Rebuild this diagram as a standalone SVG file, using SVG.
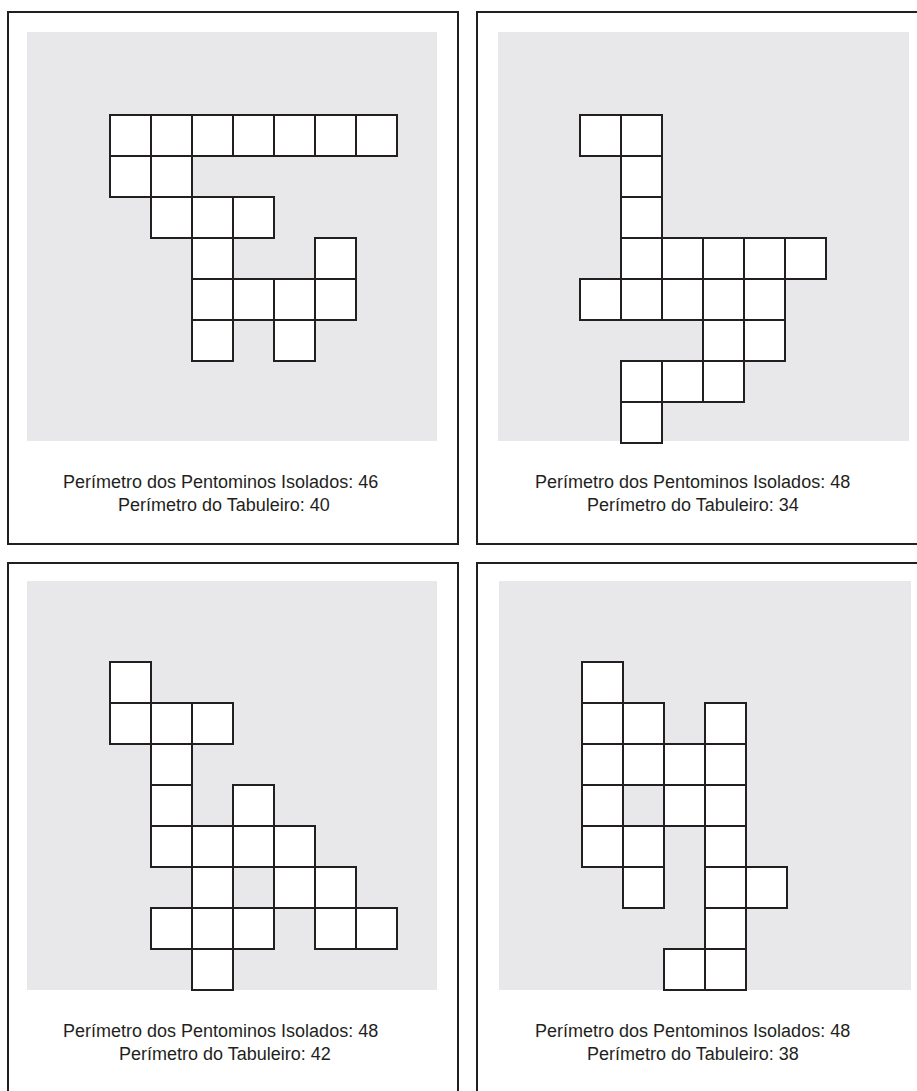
<svg xmlns="http://www.w3.org/2000/svg" width="917" height="1091" viewBox="0 0 917 1091">
<defs>
<style>
.frame{fill:#ffffff;stroke:#231f20;stroke-width:2}
.board{fill:#e8e8ea;stroke:none}
.c{fill:#ffffff;stroke:#231f20;stroke-width:2}
.t{font-family:"Liberation Sans",Arial,sans-serif;font-size:18px;fill:#231f20}
</style>
<rect id="cell" class="c" width="41" height="41"/>
</defs>
<rect width="917" height="1091" fill="#ffffff"/>

<g id="panel-top-left">
<rect class="frame" x="8" y="12" width="450" height="532"/>
<rect class="board" x="27" y="32" width="410" height="409"/>
<g transform="translate(110,115)">
<use href="#cell" x="0" y="0"/><use href="#cell" x="41" y="0"/><use href="#cell" x="82" y="0"/><use href="#cell" x="123" y="0"/><use href="#cell" x="164" y="0"/><use href="#cell" x="205" y="0"/><use href="#cell" x="246" y="0"/>
<use href="#cell" x="0" y="41"/><use href="#cell" x="41" y="41"/>
<use href="#cell" x="41" y="82"/><use href="#cell" x="82" y="82"/><use href="#cell" x="123" y="82"/>
<use href="#cell" x="82" y="123"/><use href="#cell" x="205" y="123"/>
<use href="#cell" x="82" y="164"/><use href="#cell" x="123" y="164"/><use href="#cell" x="164" y="164"/><use href="#cell" x="205" y="164"/>
<use href="#cell" x="82" y="205"/><use href="#cell" x="164" y="205"/>
</g>
<text class="t" x="63" y="488">Perímetro dos Pentominos Isolados: 46</text>
<text class="t" x="118" y="511">Perímetro do Tabuleiro: 40</text>
</g>

<g id="panel-top-right">
<rect class="frame" x="477" y="12" width="450" height="532"/>
<rect class="board" x="498" y="32" width="411" height="409"/>
<g transform="translate(580,115)">
<use href="#cell" x="0" y="0"/><use href="#cell" x="41" y="0"/>
<use href="#cell" x="41" y="41"/>
<use href="#cell" x="41" y="82"/>
<use href="#cell" x="41" y="123"/><use href="#cell" x="82" y="123"/><use href="#cell" x="123" y="123"/><use href="#cell" x="164" y="123"/><use href="#cell" x="205" y="123"/>
<use href="#cell" x="0" y="164"/><use href="#cell" x="41" y="164"/><use href="#cell" x="82" y="164"/><use href="#cell" x="123" y="164"/><use href="#cell" x="164" y="164"/>
<use href="#cell" x="123" y="205"/><use href="#cell" x="164" y="205"/>
<use href="#cell" x="41" y="246"/><use href="#cell" x="82" y="246"/><use href="#cell" x="123" y="246"/>
<use href="#cell" x="41" y="287"/>
</g>
<text class="t" x="535" y="488">Perímetro dos Pentominos Isolados: 48</text>
<text class="t" x="587" y="511">Perímetro do Tabuleiro: 34</text>
</g>

<g id="panel-bottom-left">
<rect class="frame" x="8" y="563" width="450" height="540"/>
<rect class="board" x="27" y="581" width="410" height="409"/>
<g transform="translate(110,662)">
<use href="#cell" x="0" y="0"/>
<use href="#cell" x="0" y="41"/><use href="#cell" x="41" y="41"/><use href="#cell" x="82" y="41"/>
<use href="#cell" x="41" y="82"/>
<use href="#cell" x="41" y="123"/><use href="#cell" x="123" y="123"/>
<use href="#cell" x="41" y="164"/><use href="#cell" x="82" y="164"/><use href="#cell" x="123" y="164"/><use href="#cell" x="164" y="164"/>
<use href="#cell" x="82" y="205"/><use href="#cell" x="164" y="205"/><use href="#cell" x="205" y="205"/>
<use href="#cell" x="41" y="246"/><use href="#cell" x="82" y="246"/><use href="#cell" x="123" y="246"/><use href="#cell" x="205" y="246"/><use href="#cell" x="246" y="246"/>
<use href="#cell" x="82" y="287"/>
</g>
<text class="t" x="63" y="1037">Perímetro dos Pentominos Isolados: 48</text>
<text class="t" x="119" y="1060">Perímetro do Tabuleiro: 42</text>
</g>

<g id="panel-bottom-right">
<rect class="frame" x="477" y="563" width="450" height="540"/>
<rect class="board" x="499" y="581" width="412" height="409"/>
<g transform="translate(582,662)">
<use href="#cell" x="0" y="0"/>
<use href="#cell" x="0" y="41"/><use href="#cell" x="41" y="41"/><use href="#cell" x="123" y="41"/>
<use href="#cell" x="0" y="82"/><use href="#cell" x="41" y="82"/><use href="#cell" x="82" y="82"/><use href="#cell" x="123" y="82"/>
<use href="#cell" x="0" y="123"/><use href="#cell" x="82" y="123"/><use href="#cell" x="123" y="123"/>
<use href="#cell" x="0" y="164"/><use href="#cell" x="41" y="164"/><use href="#cell" x="123" y="164"/>
<use href="#cell" x="41" y="205"/><use href="#cell" x="123" y="205"/><use href="#cell" x="164" y="205"/>
<use href="#cell" x="123" y="246"/>
<use href="#cell" x="82" y="287"/><use href="#cell" x="123" y="287"/>
</g>
<text class="t" x="535" y="1037">Perímetro dos Pentominos Isolados: 48</text>
<text class="t" x="587" y="1060">Perímetro do Tabuleiro: 38</text>
</g>
</svg>
